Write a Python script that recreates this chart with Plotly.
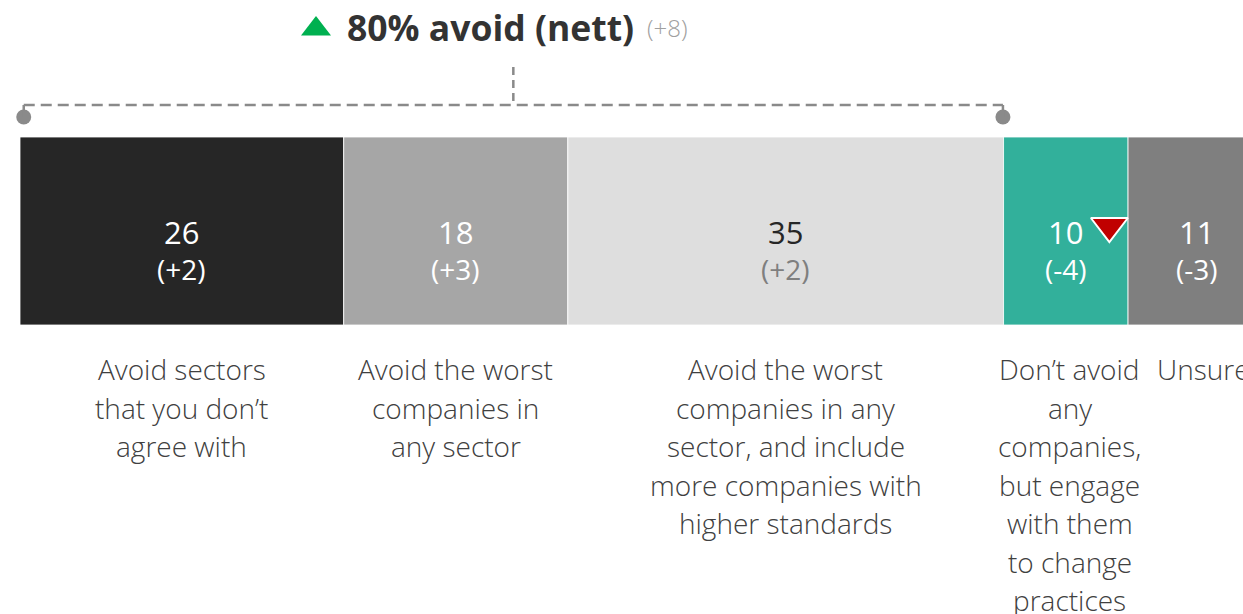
import plotly.graph_objects as go

# ---- data ----
categories = [
    "Avoid sectors<br>that you don’t<br>agree with",
    "Avoid the worst<br>companies in<br>any sector",
    "Avoid the worst<br>companies in any<br>sector, and include<br>more companies with<br>higher standards",
    "Don’t avoid<br>any<br>companies,<br>but engage<br>with them<br>to change<br>practices",
    "Unsure",
]
values = [26, 18, 35, 10, 11]
changes = ["(+2)", "(+3)", "(+2)", "(-4)", "(-3)"]
colors = ["#262626", "#a6a6a6", "#dedede", "#32b09b", "#7f7f7f"]
value_colors = ["#ffffff", "#ffffff", "#262626", "#ffffff", "#ffffff"]
change_colors = ["#ffffff", "#ffffff", "#7f7f7f", "#ffffff", "#ffffff"]
nett_label = "80% avoid (nett)"
nett_change = "(+8)"
nett_count = 3          # first three segments make up the "avoid" nett
down_flag_index = 3     # segment with significant decrease marker

# ---- layout constants (pixel-based y axis) ----
W, H = 1243, 614
LEFT = 20
PX_PER_UNIT = 12.45
BAR_Y, BAR_H = 231, 188
FONT = "Open Sans"


def px2x(px):
    return (px - LEFT) / PX_PER_UNIT


fig = go.Figure()

starts = []
acc = 0
for v in values:
    starts.append(acc)
    acc += v

for i, v in enumerate(values):
    fig.add_trace(go.Bar(
        x=[v], y=[BAR_Y], base=[starts[i]], width=[BAR_H], orientation="h",
        marker=dict(color=colors[i], line=dict(color="#ffffff", width=0.8)),
        hoverinfo="skip", showlegend=False,
    ))

annotations = []
for i, v in enumerate(values):
    cx = starts[i] + v / 2
    annotations.append(dict(x=cx, y=BAR_Y + 1, xref="x", yref="y", text=str(v),
                            showarrow=False, font=dict(family=FONT, size=31, color=value_colors[i]),
                            xanchor="center", yanchor="middle"))
    annotations.append(dict(x=cx, y=BAR_Y + 38, xref="x", yref="y", text=changes[i],
                            showarrow=False, font=dict(family=FONT, size=28, color=change_colors[i]),
                            xanchor="center", yanchor="middle"))
    for j, line in enumerate(categories[i].split("<br>")):
        annotations.append(dict(x=cx + (0.3 if i == 3 else 0.0) + (0.6 if i == 4 else 0.0),
                                y=369 + j * 38.5, xref="x", yref="y", text=line,
                                showarrow=False,
                                font=dict(family=FONT, size=28, color="#404040", weight=300),
                                xanchor="center", yanchor="middle"))

# nett bracket
x0 = 0.3
x1 = sum(values[:nett_count]) - 0.05
xm = (x0 + x1) / 2
gray = "#8a8a8a"
dash = "11px,6px"
shapes = [
    dict(type="line", xref="x", yref="y", x0=x0, x1=x1, y0=105, y1=105,
         line=dict(color=gray, width=2.5, dash=dash)),
    dict(type="line", xref="x", yref="y", x0=xm, x1=xm, y0=67, y1=105,
         line=dict(color=gray, width=2.5, dash="8px,5px")),
    dict(type="line", xref="x", yref="y", x0=x0, x1=x0, y0=105, y1=117,
         line=dict(color=gray, width=2.5)),
    dict(type="line", xref="x", yref="y", x0=x1, x1=x1, y0=105, y1=117,
         line=dict(color=gray, width=2.5)),
]
fig.add_trace(go.Scatter(x=[x0, x1], y=[117, 117], mode="markers", cliponaxis=False,
                         marker=dict(color=gray, size=15), hoverinfo="skip", showlegend=False))

# title with green up-triangle
fig.add_trace(go.Scatter(x=[px2x(316)], y=[29], mode="markers", cliponaxis=False,
                         marker=dict(symbol="triangle-up", color="#00b050", size=26,
                                     line=dict(width=0)),
                         hoverinfo="skip", showlegend=False))
annotations.append(dict(x=px2x(345), y=27, xref="x", yref="y",
                        text=f"<b>{nett_label}</b>", showarrow=False,
                        font=dict(family=FONT, size=35.5, color="#333333"),
                        xanchor="left", yanchor="middle"))
annotations.append(dict(x=px2x(645), y=27, xref="x", yref="y",
                        text=nett_change, showarrow=False,
                        font=dict(family=FONT, size=24, color="#a0a0a0", weight=300),
                        xanchor="left", yanchor="middle"))

# red down-triangle flag
fx = starts[down_flag_index] + values[down_flag_index] - 1.5
fig.add_trace(go.Scatter(x=[fx], y=[226], mode="markers", cliponaxis=False,
                         marker=dict(symbol="triangle-down", color="#c00000", size=32,
                                     line=dict(color="#ffffff", width=2)),
                         hoverinfo="skip", showlegend=False))

fig.update_layout(
    width=W, height=H,
    margin=dict(l=LEFT, r=0, t=0, b=0),
    paper_bgcolor="#ffffff", plot_bgcolor="#ffffff",
    barmode="overlay", bargap=0,
    xaxis=dict(range=[0, (W - LEFT) / PX_PER_UNIT], visible=False, fixedrange=True),
    yaxis=dict(range=[H, 0], visible=False, fixedrange=True),
    annotations=annotations, shapes=shapes,
    hovermode=False,
)

fig.write_html("out.html",
               config={"displayModeBar": False, "staticPlot": True},
               post_script="document.body.style.margin='0';document.body.style.overflow='hidden';")
